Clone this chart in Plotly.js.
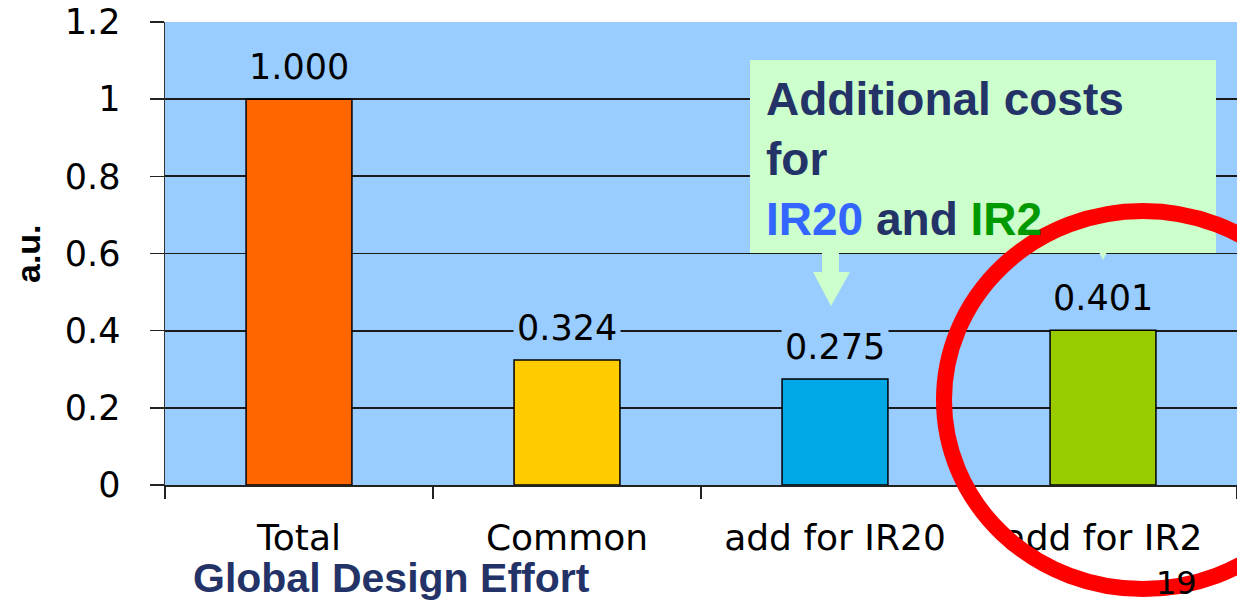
<!DOCTYPE html>
<html>
<head>
<meta charset="utf-8">
<script src="https://cdn.plot.ly/plotly-3.0.1.min.js"></script>
<style>
html,body{margin:0;padding:0;background:#fff;}
#chart{width:1237px;height:605px;}
</style>
</head>
<body>
<div id="chart"></div>
<script>
// ---- data ----
const categories = ["Total", "Common", "add for IR20", "add for IR2"];
const values = [1.000, 0.324, 0.275, 0.401];
const valueLabels = ["1.000", "0.324", "0.275", "0.401"];
const barColors = ["#FF6600", "#FFCC00", "#00A8E6", "#99CC00"];
const yTickVals = [0, 0.2, 0.4, 0.6, 0.8, 1, 1.2];
const yTickText = ["0", "0.2", "0.4", "0.6", "0.8", "1", "1.2"];

// ---- geometry helpers (pixel -> paper) ----
const W = 1237, H = 605;
const L = 165, T = 22, PW = 1072, PH = 463;
const fx = px => (px - L) / PW;
const fy = py => (T + PH - py) / PH;

const tickFont = {family: "DejaVu Sans, Verdana, sans-serif", size: 35, color: "#000"};
const catFont = {family: "DejaVu Sans, Verdana, sans-serif", size: 36, color: "#000"};
const navy = "#243367";

const trace = {
  type: "bar",
  x: categories,
  y: values,
  width: 0.395,
  marker: {color: barColors, line: {color: "#000", width: 1.5}},
  hoverinfo: "skip"
};

const annotations = values.map((v, i) => ({
  x: categories[i], y: v, xref: "x", yref: "y",
  text: valueLabels[i], showarrow: false,
  yanchor: "middle", yshift: 32,
  bgcolor: "#99CCFF", borderpad: 3,
  font: tickFont
}));

annotations.push({
  xref: "paper", yref: "paper", x: fx(28), y: fy(254),
  text: "<b>a.u.</b>", textangle: -90, showarrow: false,
  xanchor: "center", yanchor: "middle",
  font: {family: "Liberation Sans, Arial, sans-serif", size: 34, color: "#000"}
});
annotations.push({
  xref: "paper", yref: "paper", x: fx(191), y: fy(578),
  text: "<b>Global Design Effort</b>", showarrow: false,
  xanchor: "left", yanchor: "middle",
  font: {family: "Liberation Sans, Arial, sans-serif", size: 41, color: navy}
});
annotations.push({
  xref: "paper", yref: "paper", x: fx(1176), y: fy(583),
  text: "19", showarrow: false,
  xanchor: "center", yanchor: "middle",
  font: {family: "DejaVu Sans, Verdana, sans-serif", size: 32, color: "#000"}
});
annotations.push({
  xref: "paper", yref: "paper", x: fx(764), y: fy(71),
  text: "<b>Additional costs<br>for<br><span style='color:#3366FF'>IR20</span> and <span style='color:#009900'>IR2</span></b>",
  showarrow: false, align: "left",
  xanchor: "left", yanchor: "top",
  font: {family: "Liberation Sans, Arial, sans-serif", size: 46, color: navy}
});

const P = (px, py) => fx(px).toFixed(5) + "," + fy(py).toFixed(5);
const shapes = [
  {type: "rect", xref: "paper", yref: "paper", layer: "above",
   x0: fx(750), x1: fx(1216), y0: fy(253), y1: fy(60),
   fillcolor: "#CCFFCC", line: {width: 0}},
  {type: "path", xref: "paper", yref: "paper", layer: "above",
   path: "M" + P(822, 252) + " L" + P(839, 252) + " L" + P(839, 272) + " L" + P(850, 272) +
         " L" + P(831, 306) + " L" + P(813, 272) + " L" + P(822, 272) + " Z",
   fillcolor: "#CCFFCC", line: {width: 0}},
  {type: "path", xref: "paper", yref: "paper", layer: "above",
   path: "M" + P(1099, 252) + " L" + P(1107, 252) + " L" + P(1103, 260) + " Z",
   fillcolor: "#CCFFCC", line: {width: 0}},
  {type: "circle", xref: "paper", yref: "paper", layer: "above",
   x0: fx(944), x1: fx(1342), y0: fy(589), y1: fy(211),
   fillcolor: "rgba(0,0,0,0)", line: {color: "#FF0000", width: 16}}
];

const layout = {
  width: W, height: H,
  margin: {l: L, r: W - L - PW, t: T, b: H - T - PH, pad: 0},
  paper_bgcolor: "#FFFFFF",
  plot_bgcolor: "#99CCFF",
  showlegend: false,
  bargap: 0.6,
  xaxis: {
    type: "category",
    showline: true, linecolor: "#222", linewidth: 1.5,
    ticks: "outside", tickson: "boundaries", ticklen: 12, tickwidth: 1.5, tickcolor: "#222",
    ticklabelstandoff: 20,
    tickfont: catFont, showgrid: false, zeroline: false, fixedrange: true
  },
  yaxis: {
    range: [0, 1.2], tickvals: yTickVals, ticktext: yTickText,
    showline: true, linecolor: "#333", linewidth: 1.5,
    ticks: "outside", ticklen: 14, tickwidth: 1.5, tickcolor: "#222",
    ticklabelstandoff: 22,
    showgrid: true, gridcolor: "#1a1a1a", gridwidth: 1.8,
    zeroline: false, tickfont: tickFont, fixedrange: true
  },
  annotations: annotations,
  shapes: shapes
};

Plotly.newPlot("chart", [trace], layout, {displayModeBar: false, staticPlot: true});
</script>
</body>
</html>
